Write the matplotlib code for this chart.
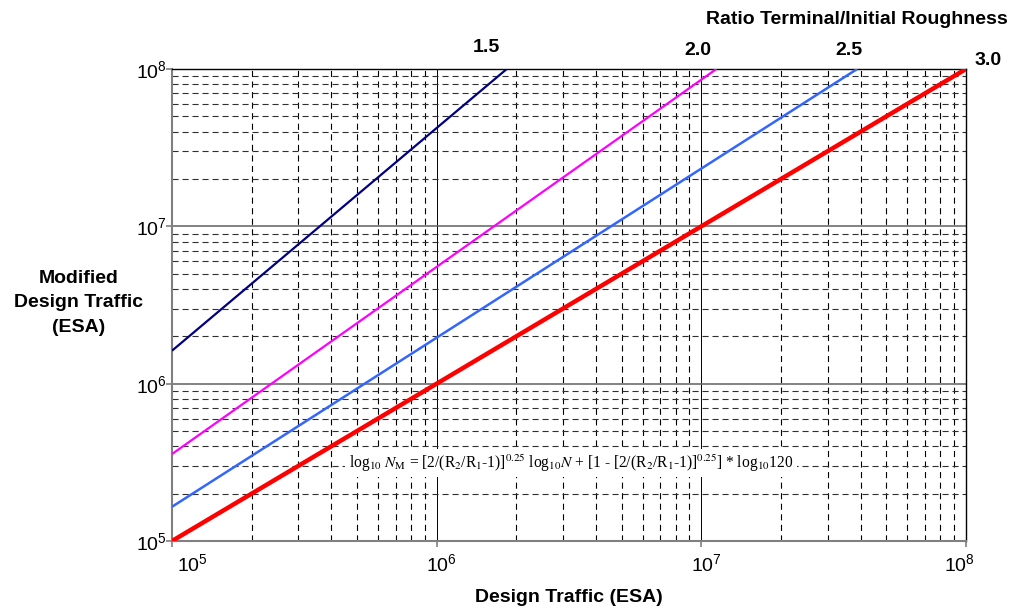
import matplotlib
matplotlib.use("Agg")
import matplotlib.pyplot as plt
from matplotlib.ticker import LogLocator, NullFormatter, FixedLocator

plt.rcParams['font.family'] = ['Liberation Sans', 'DejaVu Sans']
plt.rcParams['mathtext.fontset'] = 'custom'
plt.rcParams['mathtext.rm'] = 'Liberation Sans'
plt.rcParams['mathtext.it'] = 'Liberation Sans:italic'

# ---- data ----
ratio_labels = ["1.5", "2.0", "2.5", "3.0"]
design_traffic_15 = [1e5, 1.84e6]
modified_traffic_15 = [1.62e6, 1e8]
design_traffic_20 = [1e5, 1.14e7]
modified_traffic_20 = [3.57e5, 1e8]
design_traffic_25 = [1e5, 3.88e7]
modified_traffic_25 = [1.65e5, 1e8]
design_traffic_30 = [1e5, 1e8]
modified_traffic_30 = [1e5, 1e8]
tick_values = [1e5, 1e6, 1e7, 1e8]
tick_labels = [r"$10^{5}$", r"$10^{6}$", r"$10^{7}$", r"$10^{8}$"]

series_x = [design_traffic_15, design_traffic_20, design_traffic_25, design_traffic_30]
series_y = [modified_traffic_15, modified_traffic_20, modified_traffic_25, modified_traffic_30]
colors = ["#000080", "#FF00FF", "#3366FF", "#FF0000"]
widths = [1.6, 1.6, 1.8, 3.2]
label_offsets = [(-20, 22), (-19, 19), (-8, 19), (22, 9)]

fig = plt.figure(figsize=(10.13, 6.09), dpi=100)
ax = fig.add_axes([172/1013, (609-541)/609, (966-172)/1013, (541-69)/609])
ax.set_xscale('log')
ax.set_yscale('log')
ax.set_xlim(1e5, 1e8)
ax.set_ylim(1e5, 1e8)

# grid
ax.xaxis.set_minor_locator(LogLocator(base=10, subs=range(2, 10)))
ax.yaxis.set_minor_locator(LogLocator(base=10, subs=range(2, 10)))
ax.xaxis.set_minor_formatter(NullFormatter())
ax.yaxis.set_minor_formatter(NullFormatter())
ax.xaxis.set_major_locator(FixedLocator(tick_values))
ax.yaxis.set_major_locator(FixedLocator(tick_values))
ax.set_xticklabels([])
ax.set_yticklabels(tick_labels, fontsize=14)

ax.xaxis.grid(True, which='major', color='black', linewidth=0.7, linestyle='-')
ax.yaxis.grid(True, which='major', color='#606060', linewidth=1.1, linestyle='-')
ax.xaxis.grid(True, which='minor', color='black', linewidth=0.8, linestyle=(0, (5.5, 4)))
ax.yaxis.grid(True, which='minor', color='#303030', linewidth=0.8, linestyle=(0, (5.5, 3.5)))
ax.set_axisbelow(True)

for s in ['left', 'bottom']:
    ax.spines[s].set_color('#808080')
    ax.spines[s].set_linewidth(1.5)
for s in ['top', 'right']:
    ax.spines[s].set_color('black')
    ax.spines[s].set_linewidth(1.0)
ax.tick_params(which='major', length=4, width=1.2, color='#808080', direction='out')
ax.tick_params(which='minor', length=0)
ax.tick_params(axis='y', pad=0)

# x tick labels placed manually
for i, (v, lab) in enumerate(zip(tick_values, tick_labels)):
    ha = 'left' if i == 0 else 'center'
    dx = 5 if i == 0 else (-7 if i == 3 else 5)
    ax.annotate(lab, xy=(v, 1e5), xycoords=('data', 'data'), xytext=(dx, -12),
                textcoords='offset pixels', ha=ha, va='top', fontsize=14,
                annotation_clip=False)

for x, y, c, w, lab, off in zip(series_x, series_y, colors, widths, ratio_labels, label_offsets):
    ax.plot(x, y, color=c, linewidth=w, solid_capstyle='butt', clip_on=True, zorder=3)
    ax.annotate(lab, xy=(x[-1], y[-1]), xytext=off, textcoords='offset pixels',
                ha='center', va='center', fontsize=14, fontweight='bold',
                annotation_clip=False)

fig.text(1008/1013, 1 - 19/609, "Ratio Terminal/Initial Roughness", ha='right', va='center',
         fontsize=14, fontweight='bold')
fig.text(79/1013, 1 - 303/609, "Modified\nDesign Traffic\n(ESA)", ha='center', va='center',
         fontsize=14, fontweight='bold', linespacing=1.55)
fig.text(569/1013, 1 - 597/609, "Design Traffic (ESA)", ha='center', va='center',
         fontsize=14, fontweight='bold')

formula = (r"log$_{10}$ $N_{\mathrm{M}}$ = [2/(R$_2$/R$_1$-1)]$^{0.25}$ log$_{10}$$N$ + "
           r"[1 - [2/(R$_2$/R$_1$-1)]$^{0.25}$] * log$_{10}$120")
ax.text((571-172)/794, (541-463)/472, formula, transform=ax.transAxes, ha='center', va='center',
        fontsize=11.2, family='Liberation Serif', math_fontfamily='stix',
        bbox=dict(facecolor='white', edgecolor='none', pad=2.5), zorder=4)

fig.savefig("out.png", dpi=100)
